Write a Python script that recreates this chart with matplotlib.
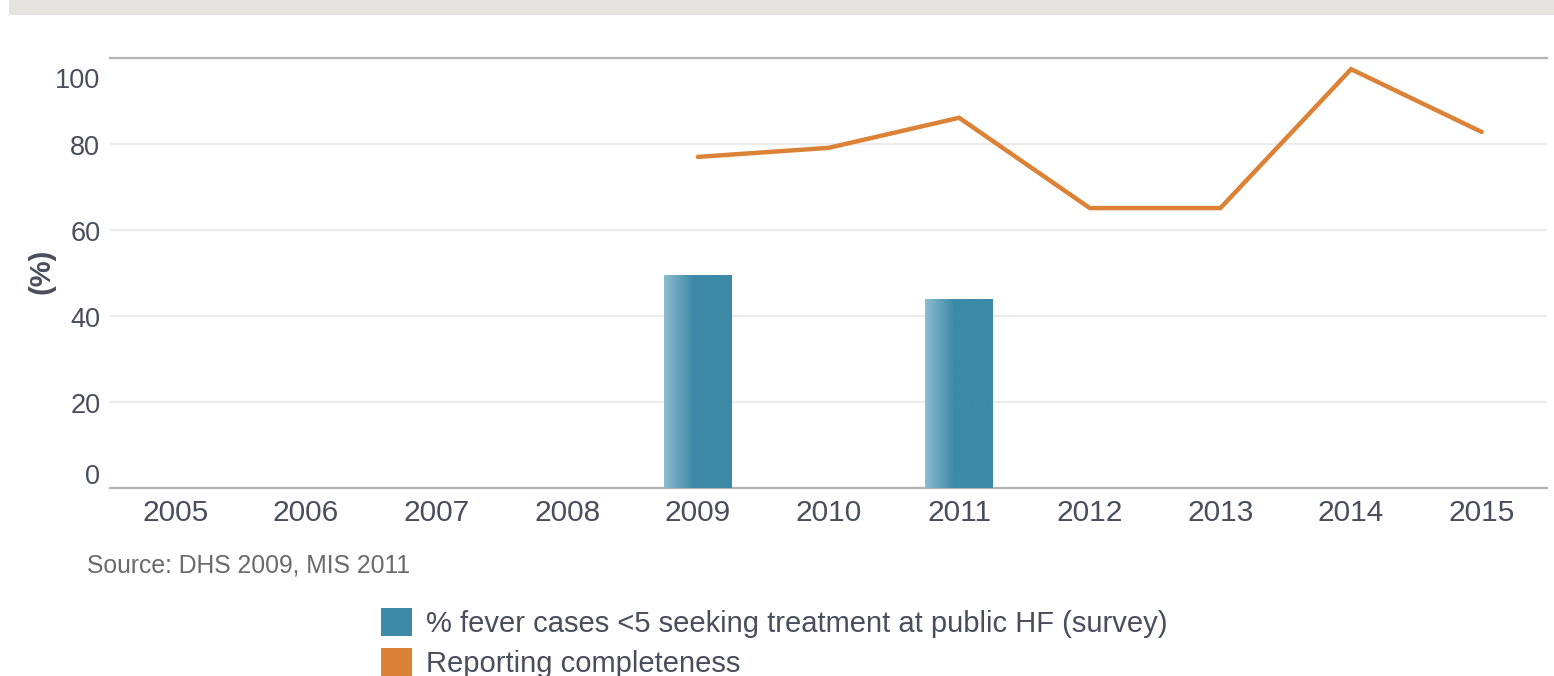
import matplotlib
matplotlib.use("Agg")
import matplotlib.pyplot as plt
import matplotlib.transforms as mtransforms
from matplotlib.patches import Patch, Rectangle
from matplotlib.colors import LinearSegmentedColormap
import numpy as np

years = ["2005", "2006", "2007", "2008", "2009", "2010", "2011", "2012", "2013", "2014", "2015"]
fever_survey = [None, None, None, None, 49.6, None, 43.9, None, None, None, None]
reporting = [None, None, None, None, 77.0, 79.1, 86.1, 65.1, 65.1, 97.4, 82.8]
yticks = [0, 20, 40, 60, 80, 100]
legend_labels = ["% fever cases <5 seeking treatment at public HF (survey)", "Reporting completeness"]
source_text = "Source: DHS 2009, MIS 2011"

BAR_DARK = "#3d89a8"
BAR_LIGHT = "#8dbccf"
LINE_COL = "#db8236"
TXT = "#494d5c"

plt.rcParams['font.family'] = ['Liberation Sans', 'DejaVu Sans']

fig = plt.figure(figsize=(15.54, 6.76), dpi=100)
W, H = 1554, 676
ax = fig.add_axes([110 / W, 1 - 488 / H, (1547 - 110) / W, (488 - 58) / H])

# top banner
fig.patches.append(Rectangle((9 / W, 1 - 15 / H), 1 - 9 / W, 15 / H, transform=fig.transFigure,
                             facecolor="#e4e3de", edgecolor="none", zorder=0))

x = np.arange(len(years))
bx = [i for i, v in enumerate(fever_survey) if v is not None]
bv = [v for v in fever_survey if v is not None]
bars = ax.bar(bx, bv, width=0.52, color=BAR_DARK, zorder=2)

cmap = LinearSegmentedColormap.from_list("g", [(0, BAR_LIGHT), (0.43, BAR_DARK), (1, BAR_DARK)])
grad = np.linspace(0, 1, 256).reshape(1, -1)
for b in bars:
    x0, y0 = b.get_x(), b.get_y()
    w, h = b.get_width(), b.get_height()
    im = ax.imshow(grad, cmap=cmap, extent=[x0, x0 + w, y0, y0 + h], aspect="auto",
                   interpolation="bilinear", zorder=3)
    im.set_clip_path(b)

lx = [i for i, v in enumerate(reporting) if v is not None]
lv = [v for v in reporting if v is not None]
ax.plot(lx, lv, color=LINE_COL, lw=3.2, solid_joinstyle="miter", solid_capstyle="round", zorder=4)

ax.set_xlim(-0.5, len(years) - 0.5)
ax.set_ylim(0, 100)
ax.set_xticks(x)
ax.set_xticklabels(years)
ax.set_yticks(yticks)
ax.set_yticklabels([str(t) for t in yticks])

for s in ["left", "right"]:
    ax.spines[s].set_visible(False)
for s in ["top", "bottom"]:
    ax.spines[s].set_color("#b3b3b3")
    ax.spines[s].set_linewidth(1.6)
ax.grid(axis="y", color="#ececec", lw=1.6, zorder=0)
ax.set_axisbelow(True)
ax.tick_params(axis="both", length=0, labelcolor=TXT)
ax.tick_params(axis="x", pad=8, labelsize=21.5)
ax.tick_params(axis="y", pad=7, labelsize=19.5)

# highcharts-like tick label offsets for extreme labels
for lab, t in zip(ax.get_yticklabels(), yticks):
    if t == 100:
        dy = -20
    elif t == 0:
        dy = 14
    else:
        dy = -1
    lab.set_transform(lab.get_transform() + mtransforms.ScaledTranslation(0, dy / 100, fig.dpi_scale_trans))

ax.set_ylabel("(%)", fontsize=21, fontweight="bold", color=TXT)
ax.yaxis.set_label_coords(-55 / (1547 - 110), 0.505)

fig.text(87 / W, 1 - 565 / H, source_text, fontsize=17.8, color="#6a6a6a", va="center", ha="left")

handles = [Patch(facecolor=BAR_DARK, edgecolor="none"), Patch(facecolor=LINE_COL, edgecolor="none")]
fig.legend(handles, legend_labels, loc="upper left", bbox_to_anchor=(378 / W, 1 - 605 / H),
           frameon=False, fontsize=21, labelcolor=TXT, handlelength=1.08, handleheight=1.08,
           handletextpad=0.45, labelspacing=0.36, borderaxespad=0, borderpad=0.1)

fig.savefig("out.png", dpi=100)
